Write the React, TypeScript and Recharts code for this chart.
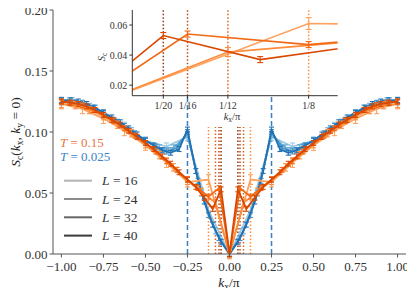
import React from "react";
import {
  ComposedChart,
  Line,
  XAxis,
  YAxis,
  ErrorBar,
  ReferenceLine,
  CartesianGrid,
  Legend,
} from "recharts";

const FONT = "'Liberation Serif', 'DejaVu Serif', serif";

// system sizes, one curve per L and temperature
const sizes = [16, 24, 32, 40];

// S_c(kx, ky=0) for kx/pi = 2n/L, n = 0..L/2 (curve is symmetric in kx)
const hotL16 = [0, 0.061, 0.059, 0.075, 0.089, 0.101, 0.111, 0.119, 0.123];
const hotL24 = [0, 0.042, 0.051, 0.06, 0.071, 0.081, 0.09, 0.099, 0.106, 0.113, 0.118, 0.122, 0.123];
const hotL32 = [0, 0.054, 0.047, 0.054, 0.061, 0.069, 0.076, 0.084, 0.091, 0.097, 0.103, 0.109, 0.114, 0.118, 0.122, 0.124, 0.125];
const hotL40 = [0, 0.053, 0.037, 0.046, 0.055, 0.061, 0.067, 0.074, 0.08, 0.086, 0.091, 0.096, 0.101, 0.106, 0.11, 0.114, 0.118, 0.121, 0.123, 0.124, 0.125];

const coldL16 = [0, 0.036, 0.096, 0.088, 0.093, 0.105, 0.114, 0.122, 0.125];
const coldL24 = [0, 0.019, 0.05, 0.098, 0.087, 0.087, 0.093, 0.101, 0.108, 0.115, 0.121, 0.124, 0.126];
const coldL32 = [0, 0.013, 0.032, 0.06, 0.1, 0.087, 0.084, 0.088, 0.093, 0.099, 0.105, 0.11, 0.116, 0.12, 0.124, 0.126, 0.126];
const coldL40 = [0, 0.01, 0.024, 0.043, 0.068, 0.102, 0.086, 0.083, 0.085, 0.089, 0.093, 0.098, 0.103, 0.108, 0.112, 0.116, 0.12, 0.123, 0.125, 0.126, 0.126];

const hotErr = [0.004, 0.003, 0.002, 0.002];
const coldErr = [0.003, 0.0025, 0.002, 0.002];

const hotColors = ["#fda35f", "#fd8d3c", "#f16913", "#d94801"];
const coldColors = ["#9ecae1", "#6baed6", "#4292c6", "#2171b5"];
const peakColors = ["#fd8d3c", "#e0601a", "#bd4a14", "#8f3310"];
const legendGrays = ["#b3b3b3", "#8c8c8c", "#666666", "#3a3a3a"];

const xTicks = [-1, -0.75, -0.5, -0.25, 0, 0.25, 0.5, 0.75, 1];
const yTicks = [0, 0.05, 0.1, 0.15, 0.2];
const insetXTicks = [1 / 20, 1 / 16, 1 / 12, 1 / 8];
const insetXLabels = ["1/20", "1/16", "1/12", "1/8"];
const insetYTicks = [0.02, 0.04, 0.06];

type Pt = { kx: number; s: number; err?: number };

function mirror(L: number, vals: number[], err: number): Pt[] {
  const half = L / 2;
  const pts: Pt[] = [];
  for (let n = -half; n <= half; n++) {
    pts.push({ kx: (2 * n) / L, s: vals[Math.abs(n)], err });
  }
  return pts;
}

const hotVals = [hotL16, hotL24, hotL32, hotL40];
const coldVals = [coldL16, coldL24, coldL32, coldL40];
const hotSeries = sizes.map((L, i) => mirror(L, hotVals[i], hotErr[i]));
const coldSeries = sizes.map((L, i) => mirror(L, coldVals[i], coldErr[i]));

const INSET_X: [number, number] = [0.034, 0.14];
const INSET_Y: [number, number] = [0.013, 0.07];

const insetSeries = hotSeries.map((pts) =>
  pts
    .filter((p) => p.kx >= 0 && p.kx <= 0.25)
    .map((p) => ({
      kx: p.kx,
      s: p.s,
      err: p.kx >= INSET_X[0] && p.kx <= INSET_X[1] ? p.err : undefined,
    }))
);

const fmtMain = (v: number) => (v < 0 ? "\u2212" : "") + Math.abs(v).toFixed(2);

function LegendBox() {
  return (
    <svg width={90} height={116} style={{ fontFamily: FONT, overflow: "visible" }}>
      <text x={4} y={17} fontSize={13} fill="#e8763e">
        <tspan fontStyle="italic">T</tspan> = 0.15
      </text>
      <text x={4} y={31} fontSize={13} fill="#3d83c6">
        <tspan fontStyle="italic">T</tspan> = 0.025
      </text>
      {sizes.map((L, i) => {
        const y = 50.7 + i * 18.3;
        return (
          <g key={L}>
            <line x1={8} x2={36} y1={y} y2={y} stroke={legendGrays[i]} strokeWidth={2} />
            <text x={46} y={y + 4.6} fontSize={13.5} fill="#333">
              <tspan fontStyle="italic">L</tspan> = {L}
            </text>
          </g>
        );
      })}
    </svg>
  );
}

export default function App() {
  const tickStyle = { fill: "#333", fontSize: 13, fontFamily: FONT };
  const insetTick = { fill: "#333", fontSize: 10, fontFamily: FONT };
  return (
    <div style={{ position: "relative", width: 415, height: 296, margin: -8, background: "#fff" }}>
      <ComposedChart width={415} height={296} margin={{ top: 10, right: 9, bottom: 0, left: 0 }}>
        <XAxis
          type="number"
          dataKey="kx"
          domain={[-1.05, 1.05]}
          ticks={xTicks}
          tickFormatter={fmtMain}
          allowDataOverflow
          height={42}
          tickSize={3.5}
          tickMargin={4}
          stroke="#555"
          tick={tickStyle}
        />
        <XAxis xAxisId="top" orientation="top" type="number" domain={[-1.05, 1.05]} height={0} tick={false} tickLine={false} stroke="#555" />
        <YAxis
          type="number"
          domain={[0, 0.2]}
          ticks={yTicks}
          tickFormatter={(v: number) => v.toFixed(2)}
          allowDataOverflow
          width={53}
          tickSize={3.5}
          tickMargin={2}
          stroke="#555"
          tick={tickStyle}
        />
        <YAxis yAxisId="right" orientation="right" type="number" domain={[0, 0.2]} width={0} tick={false} tickLine={false} stroke="#555" />
        {[-0.25, 0.25].map((x) => (
          <ReferenceLine key={"b" + x} x={x} stroke="#3b7fbf" strokeWidth={1.5} strokeDasharray="5 3" />
        ))}
        {sizes.map((L, i) =>
          [-1, 1].map((sg) => (
            <ReferenceLine
              key={"p" + L + sg}
              segment={[
                { x: (sg * 2) / L, y: 0 },
                { x: (sg * 2) / L, y: 0.104 },
              ]}
              stroke={peakColors[i]}
              strokeWidth={1.5}
              strokeDasharray="1.5 2"
            />
          ))
        )}
        {coldSeries.map((pts, i) => (
          <Line
            key={"c" + i}
            data={pts}
            dataKey="s"
            type="linear"
            stroke={coldColors[i]}
            strokeWidth={1.8}
            dot={false}
            isAnimationActive={false}
          >
            <ErrorBar dataKey="err" direction="y" width={2.5} stroke={coldColors[i]} strokeWidth={1.1} isAnimationActive={false} />
          </Line>
        ))}
        {hotSeries.map((pts, i) => (
          <Line
            key={"h" + i}
            data={pts}
            dataKey="s"
            type="linear"
            stroke={hotColors[i]}
            strokeWidth={1.8}
            dot={false}
            isAnimationActive={false}
          >
            <ErrorBar dataKey="err" direction="y" width={2.5} stroke={hotColors[i]} strokeWidth={1.1} isAnimationActive={false} />
          </Line>
        ))}
        <Legend
          layout="vertical"
          align="center"
          verticalAlign="middle"
          wrapperStyle={{ left: 56, top: 130, width: 90, height: 116 }}
          content={() => <LegendBox />}
        />
      </ComposedChart>

      <div style={{ position: "absolute", left: 92, top: 0 }}>
        <ComposedChart width={250} height={130} margin={{ top: 10, right: 4.3, bottom: 0, left: 0 }}>
          <CartesianGrid fill="#fff" horizontal={false} vertical={false} />
          <XAxis
            type="number"
            dataKey="kx"
            domain={INSET_X}
            ticks={insetXTicks}
            tickFormatter={(v: number) => insetXLabels[insetXTicks.findIndex((t) => Math.abs(t - v) < 1e-6)] ?? ""}
            allowDataOverflow
            height={34.3}
            tickSize={3}
            tickMargin={3}
            stroke="#333"
            tick={insetTick}
            interval={0}
          />
          <XAxis xAxisId="top" orientation="top" type="number" domain={INSET_X} height={0} tick={false} tickLine={false} stroke="#333" />
          <YAxis
            type="number"
            domain={INSET_Y}
            ticks={insetYTicks}
            tickFormatter={(v: number) => v.toFixed(2)}
            allowDataOverflow
            width={40.3}
            tickSize={3}
            tickMargin={2}
            stroke="#333"
            tick={insetTick}
          />
          <YAxis yAxisId="right" orientation="right" type="number" domain={INSET_Y} width={0} tick={false} tickLine={false} stroke="#333" />
          {sizes.map((L, i) => (
            <ReferenceLine key={"ip" + L} x={2 / L} stroke={peakColors[i]} strokeWidth={1.5} strokeDasharray="1.5 2" />
          ))}
          {insetSeries.map((pts, i) => (
            <Line
              key={"ih" + i}
              data={pts}
              dataKey="s"
              type="linear"
              stroke={hotColors[i]}
              strokeWidth={1.6}
              dot={false}
              isAnimationActive={false}
            >
              <ErrorBar dataKey="err" direction="y" width={3} stroke={hotColors[i]} strokeWidth={1.1} isAnimationActive={false} />
            </Line>
          ))}
        </ComposedChart>
      </div>

      <svg
        width={415}
        height={296}
        style={{ position: "absolute", left: 0, top: 0, pointerEvents: "none", fontFamily: FONT }}
      >
        <text transform="translate(20,132) rotate(-90)" textAnchor="middle" fontSize={13.5} fill="#222">
          <tspan fontStyle="italic">S</tspan>
          <tspan fontSize={9.5} dy={3}>c</tspan>
          <tspan dy={-3}>(</tspan>
          <tspan fontStyle="italic">k</tspan>
          <tspan fontSize={9.5} dy={3}>x</tspan>
          <tspan dy={-3}>, </tspan>
          <tspan fontStyle="italic">k</tspan>
          <tspan fontSize={9.5} dy={3}>y</tspan>
          <tspan dy={-3}> = 0)</tspan>
        </text>
        <text x={229} y={287} textAnchor="middle" fontSize={13.5} fill="#222">
          <tspan fontStyle="italic">k</tspan>
          <tspan fontSize={9.5} dy={3}>x</tspan>
          <tspan dy={-3}>/π</tspan>
        </text>
        <text x={232} y={120} textAnchor="middle" fontSize={10.5} fill="#333">
          <tspan fontStyle="italic">k</tspan>
          <tspan fontSize={7.5} dy={2}>x</tspan>
          <tspan dy={-2}>/π</tspan>
        </text>
        <text transform="translate(105,57) rotate(-90)" textAnchor="middle" fontSize={10.5} fill="#333">
          <tspan fontStyle="italic">S</tspan>
          <tspan fontSize={7.5} dy={2}>c</tspan>
        </text>
      </svg>
    </div>
  );
}
